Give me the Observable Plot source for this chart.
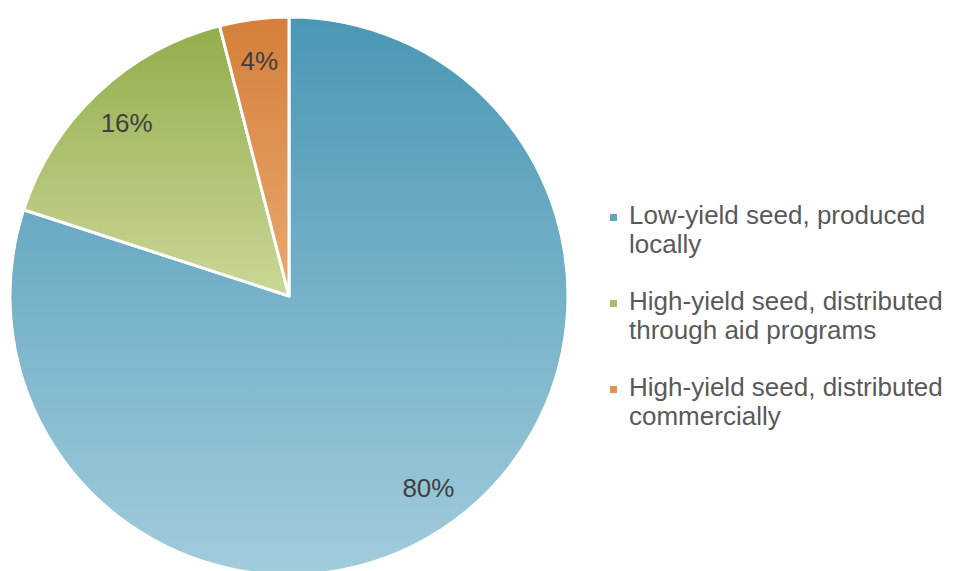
<!DOCTYPE html>
<html>
<head>
<meta charset="utf-8">
<script src="https://cdn.jsdelivr.net/npm/d3@7"></script>
<script src="https://cdn.jsdelivr.net/npm/@observablehq/plot@0.6"></script>
<style>
  html, body { margin: 0; padding: 0; background: #fff; overflow: hidden; }
  #wrap { position: relative; width: 964px; height: 571px; font-family: "Liberation Sans", Arial, sans-serif; }
  #legend { position: absolute; left: 610px; top: 201px; color: #595959; font-size: 26px; line-height: 29px; white-space: nowrap; }
  .item { display: flex; align-items: flex-start; margin-bottom: 28px; }
  .sw { width: 7px; height: 7px; margin-top: 13px; margin-right: 12px; flex: none; }
</style>
</head>
<body>
<div id="wrap"><div id="legend"></div></div>
<script>
const categories = [
  "Low-yield seed, produced locally",
  "High-yield seed, distributed through aid programs",
  "High-yield seed, distributed commercially"
];
const legendLines = [
  ["Low-yield seed, produced", "locally"],
  ["High-yield seed, distributed", "through aid programs"],
  ["High-yield seed, distributed", "commercially"]
];
const values = [80, 16, 4];
const labels = ["80%", "16%", "4%"];
const swatchColors = ["#5fa6c0", "#a9bd6a", "#dc9353"];
const gradTop = ["#4a97b4", "#93ad4c", "#d47f3a"];
const gradBottom = ["#a1ccdc", "#cad797", "#eaa96f"];

const data = categories.map((c, i) => ({category: c, value: values[i], label: labels[i]}));

const color = Plot.scale({color: {type: "ordinal", domain: categories, range: swatchColors}});

const cx = 289, cy = 296, R = 279;

function pieMark(index, scales, values, dims) {
  const g = d3.create("svg:g");
  const defs = g.append("defs");
  const arcs = d3.pie().sort(null).value(d => d.value)(data);
  const arc = d3.arc().innerRadius(0).outerRadius(R);
  const labelArc = d3.arc().innerRadius(R * 0.85).outerRadius(R * 0.85);
  arcs.forEach((a, i) => {
    const lg = defs.append("linearGradient").attr("id", "g" + i)
      .attr("x1", 0).attr("y1", 0).attr("x2", 0).attr("y2", 1);
    lg.append("stop").attr("offset", "0%").attr("stop-color", gradTop[i]);
    lg.append("stop").attr("offset", "100%").attr("stop-color", gradBottom[i]);
  });
  const pg = g.append("g").attr("transform", `translate(${cx},${cy})`);
  pg.selectAll("path").data(arcs).join("path")
    .attr("d", arc)
    .attr("fill", (d, i) => `url(#g${i})`)
    .attr("stroke", "#fff")
    .attr("stroke-width", 3)
    .attr("stroke-linejoin", "round");
  pg.selectAll("text").data(arcs).join("text")
    .attr("transform", d => `translate(${labelArc.centroid(d)})`)
    .attr("text-anchor", "middle")
    .attr("dy", "0.35em")
    .attr("font-family", "Liberation Sans, Arial, sans-serif")
    .attr("font-size", 26)
    .attr("fill", "#404040")
    .text(d => d.data.label);
  return g.node();
}

const chart = Plot.plot({
  width: 964,
  height: 571,
  margin: 0,
  style: {background: "transparent", overflow: "hidden"},
  marks: [pieMark]
});
chart.style.position = "absolute";
chart.style.left = "0";
chart.style.top = "0";
document.getElementById("wrap").prepend(chart);

const legend = document.getElementById("legend");
categories.forEach((c, i) => {
  const item = document.createElement("div");
  item.className = "item";
  const sw = document.createElement("div");
  sw.className = "sw";
  sw.style.background = color.apply(c);
  const txt = document.createElement("div");
  txt.innerHTML = legendLines[i].join("<br>");
  item.appendChild(sw);
  item.appendChild(txt);
  legend.appendChild(item);
});
</script>
</body>
</html>
